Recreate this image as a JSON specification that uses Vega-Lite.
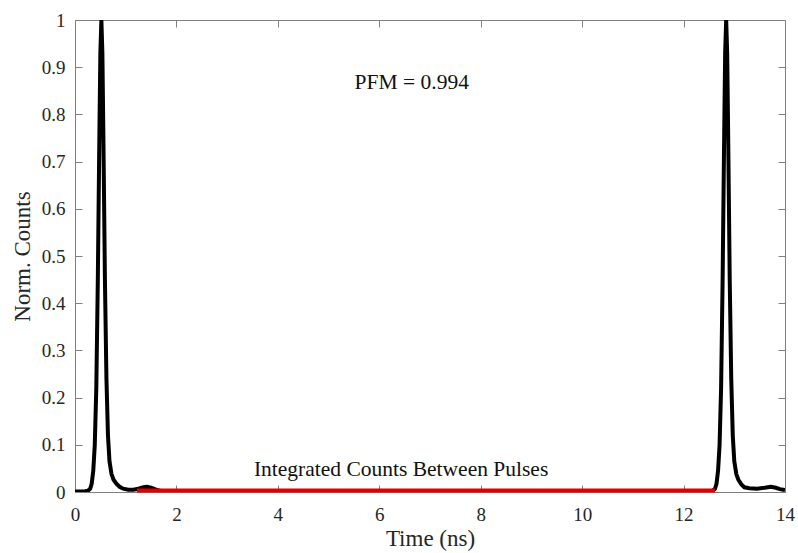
{
  "$schema": "https://vega.github.io/schema/vega-lite/v6.json",
  "width": 710,
  "height": 472,
  "autosize": {"type": "none"},
  "padding": {"left": 75, "top": 20, "right": 13, "bottom": 61},
  "background": "white",
  "config": {
    "view": {"stroke": null},
    "font": "Liberation Serif",
    "axis": {
      "grid": false,
      "domainColor": "#808080",
      "domainWidth": 1,
      "tickColor": "#808080",
      "tickWidth": 1,
      "tickSize": -7,
      "labelFont": "Liberation Serif",
      "labelFontSize": 19,
      "labelColor": "#262626",
      "labelFlush": false,
      "labelOverlap": false,
      "labelBound": false,
      "titleFont": "Liberation Serif",
      "titleFontSize": 23,
      "titleFontWeight": "normal",
      "titleColor": "#262626"
    }
  },
  "datasets": {
    "signal": [
      {"t": 0, "v": 0.001}, {"t": 0.1, "v": 0.001}, {"t": 0.2, "v": 0.0015}, {"t": 0.26, "v": 0.003},
      {"t": 0.3, "v": 0.007}, {"t": 0.33, "v": 0.018}, {"t": 0.36, "v": 0.045}, {"t": 0.39, "v": 0.1},
      {"t": 0.42, "v": 0.22}, {"t": 0.45, "v": 0.45}, {"t": 0.48, "v": 0.75}, {"t": 0.5, "v": 0.93},
      {"t": 0.52, "v": 1.0}, {"t": 0.54, "v": 0.93}, {"t": 0.56, "v": 0.75}, {"t": 0.59, "v": 0.45},
      {"t": 0.62, "v": 0.24}, {"t": 0.65, "v": 0.12}, {"t": 0.68, "v": 0.065}, {"t": 0.72, "v": 0.038},
      {"t": 0.76, "v": 0.026}, {"t": 0.82, "v": 0.017}, {"t": 0.88, "v": 0.011}, {"t": 0.95, "v": 0.007},
      {"t": 1.05, "v": 0.005}, {"t": 1.15, "v": 0.005}, {"t": 1.25, "v": 0.007}, {"t": 1.35, "v": 0.01},
      {"t": 1.42, "v": 0.011}, {"t": 1.5, "v": 0.009}, {"t": 1.6, "v": 0.005}, {"t": 1.7, "v": 0.002},
      {"t": 1.85, "v": 0.001}, {"t": 2.5, "v": 0.0008}, {"t": 3.5, "v": 0.001}, {"t": 4.5, "v": 0.0009},
      {"t": 5.5, "v": 0.001}, {"t": 6.5, "v": 0.0008}, {"t": 7.5, "v": 0.001}, {"t": 8.5, "v": 0.0009},
      {"t": 9.5, "v": 0.001}, {"t": 10.5, "v": 0.0009}, {"t": 11.5, "v": 0.001}, {"t": 12.3, "v": 0.0012},
      {"t": 12.5, "v": 0.0015}, {"t": 12.55, "v": 0.002}, {"t": 12.58, "v": 0.003}, {"t": 12.62, "v": 0.007},
      {"t": 12.65, "v": 0.018}, {"t": 12.68, "v": 0.045}, {"t": 12.71, "v": 0.1}, {"t": 12.74, "v": 0.22},
      {"t": 12.77, "v": 0.45}, {"t": 12.8, "v": 0.75}, {"t": 12.82, "v": 0.93}, {"t": 12.84, "v": 1.0},
      {"t": 12.86, "v": 0.93}, {"t": 12.88, "v": 0.75}, {"t": 12.91, "v": 0.45}, {"t": 12.94, "v": 0.24},
      {"t": 12.97, "v": 0.12}, {"t": 13.0, "v": 0.065}, {"t": 13.04, "v": 0.038}, {"t": 13.08, "v": 0.026},
      {"t": 13.14, "v": 0.016}, {"t": 13.2, "v": 0.01}, {"t": 13.3, "v": 0.008}, {"t": 13.45, "v": 0.007},
      {"t": 13.6, "v": 0.009}, {"t": 13.72, "v": 0.011}, {"t": 13.82, "v": 0.009}, {"t": 13.9, "v": 0.006},
      {"t": 14.0, "v": 0.004}
    ],
    "between": [
      {"t": 1.22, "v": 0.003}, {"t": 12.62, "v": 0.003}
    ],
    "notes": [
      {"t": 6.64, "v": 0.867, "label": "PFM = 0.994"},
      {"t": 6.43, "v": 0.047, "label": "Integrated Counts Between Pulses"}
    ]
  },
  "layer": [
    {
      "data": {"name": "signal"},
      "mark": {"type": "line", "color": "black", "strokeWidth": 4, "clip": true},
      "encoding": {
        "x": {"field": "t", "type": "quantitative", "scale": {"domain": [0, 14], "nice": false},
          "axis": {"orient": "bottom", "title": "Time (ns)", "values": [0, 2, 4, 6, 8, 10, 12, 14], "labelPadding": 20, "titleX": 355, "titleY": 53, "titleAlign": "center", "titleBaseline": "alphabetic"}},
        "y": {"field": "v", "type": "quantitative", "scale": {"domain": [0, 1], "nice": false},
          "axis": {"orient": "left", "title": "Norm. Counts", "values": [0, 0.1, 0.2, 0.3, 0.4, 0.5, 0.6, 0.7, 0.8, 0.9, 1], "format": "~g", "labelPadding": 17, "titleX": -53, "titleY": 236, "titleAlign": "center", "titleBaseline": "middle", "titleAngle": -90}}
      }
    },
    {
      "data": {"name": "between"},
      "mark": {"type": "line", "color": "#e00000", "strokeWidth": 4},
      "encoding": {
        "x": {"field": "t", "type": "quantitative", "axis": {"orient": "top", "labels": false, "title": null, "values": [0, 2, 4, 6, 8, 10, 12, 14]}},
        "y": {"field": "v", "type": "quantitative", "axis": {"orient": "right", "labels": false, "title": null, "values": [0, 0.1, 0.2, 0.3, 0.4, 0.5, 0.6, 0.7, 0.8, 0.9, 1]}}
      }
    },
    {
      "data": {"name": "notes"},
      "mark": {"type": "text", "font": "Liberation Serif", "fontSize": 21.5, "color": "#111111", "align": "center", "baseline": "middle"},
      "encoding": {
        "x": {"field": "t", "type": "quantitative", "axis": null},
        "y": {"field": "v", "type": "quantitative", "axis": null},
        "text": {"field": "label"}
      }
    }
  ],
  "resolve": {"axis": {"x": "independent", "y": "independent"}}
}
